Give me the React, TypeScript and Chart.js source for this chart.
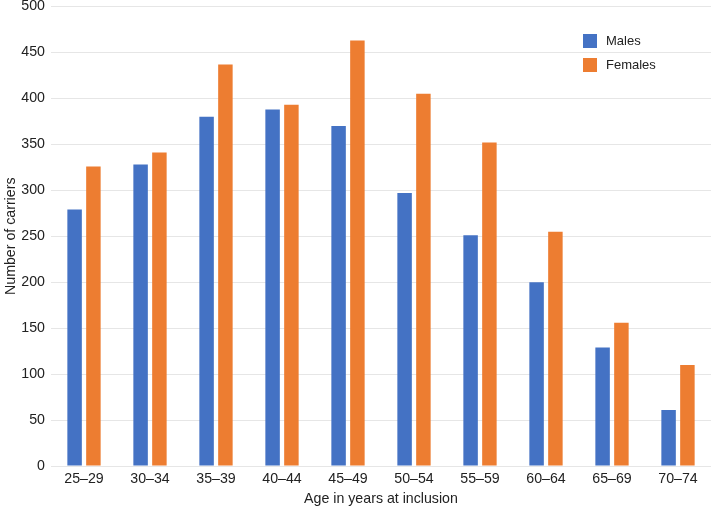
import React, { useEffect, useRef } from "react";
import { Chart, registerables } from "chart.js";

Chart.register(...registerables);

const categories = ["25–29", "30–34", "35–39", "40–44", "45–49", "50–54", "55–59", "60–64", "65–69", "70–74"];
const males = [279, 328, 380, 388, 370, 297, 251, 200, 129, 61];
const females = [326, 341, 437, 393, 463, 405, 352, 255, 156, 110];
const yTicks = [0, 50, 100, 150, 200, 250, 300, 350, 400, 450, 500];
const seriesNames = ["Males", "Females"];
const seriesColors = ["#4472C4", "#ED7D31"];

const FONT = "'Liberation Sans', Arial, Helvetica, sans-serif";
const FS = 14.2;

const legendPlugin = {
  id: "customLegend",
  afterDraw(chart: any) {
    const ctx = chart.ctx;
    ctx.save();
    ctx.font = `13px ${FONT}`;
    ctx.textBaseline = "middle";
    ctx.textAlign = "left";
    seriesNames.forEach((name, i) => {
      const y = 34 + i * 24;
      ctx.fillStyle = seriesColors[i];
      ctx.fillRect(583, y, 14, 14);
      ctx.fillStyle = "#222";
      ctx.fillText(name, 606, y + 7);
    });
    ctx.restore();
  },
};

export default function App() {
  const ref = useRef<HTMLCanvasElement | null>(null);
  useEffect(() => {
    document.body.style.margin = "0";
    const chart = new Chart(ref.current as HTMLCanvasElement, {
      type: "bar",
      data: {
        labels: categories,
        datasets: [
          { label: seriesNames[0], data: males, backgroundColor: seriesColors[0] },
          { label: seriesNames[1], data: females, backgroundColor: seriesColors[1] },
        ],
      },
      options: {
        animation: false,
        responsive: false,
        devicePixelRatio: 1,
        layout: { padding: { top: 6.5, right: 2, left: 0, bottom: 0 } },
        datasets: { bar: { categoryPercentage: 0.57, barPercentage: 0.77 } } as any,
        plugins: { legend: { display: false }, tooltip: { enabled: false } },
        scales: {
          x: {
            afterFit: (axis: any) => {
              axis.height = 42;
              axis.paddingLeft = 0;
              axis.paddingRight = 0;
            },
            grid: { display: false, drawTicks: false },
            border: { display: false },
            ticks: { color: "#222", font: { family: FONT, size: FS }, padding: 5 },
            title: { display: true, text: "Age in years at inclusion", color: "#222", font: { family: FONT, size: FS }, padding: { top: 0, bottom: 0 } },
          },
          y: {
            min: 0,
            max: 500,
            afterBuildTicks: (axis: any) => {
              axis.ticks = yTicks.map((v) => ({ value: v }));
            },
            afterFit: (axis: any) => {
              axis.width = 51;
              axis.paddingTop = 0;
              axis.paddingBottom = 0;
            },
            grid: { color: "#e6e6e6", drawTicks: false, lineWidth: 1 },
            border: { display: false },
            ticks: { color: "#222", font: { family: FONT, size: FS }, padding: 6 },
            title: { display: true, text: "Number of carriers", color: "#222", font: { family: FONT, size: FS }, padding: { top: 3, bottom: 0 } },
          },
        },
      },
      plugins: [legendPlugin],
    });
    return () => chart.destroy();
  }, []);
  return (
    <div style={{ position: "absolute", left: 0, top: 0, width: 713, height: 508, background: "#fff", overflow: "hidden" }}>
      <canvas ref={ref} width={713} height={508} />
    </div>
  );
}
